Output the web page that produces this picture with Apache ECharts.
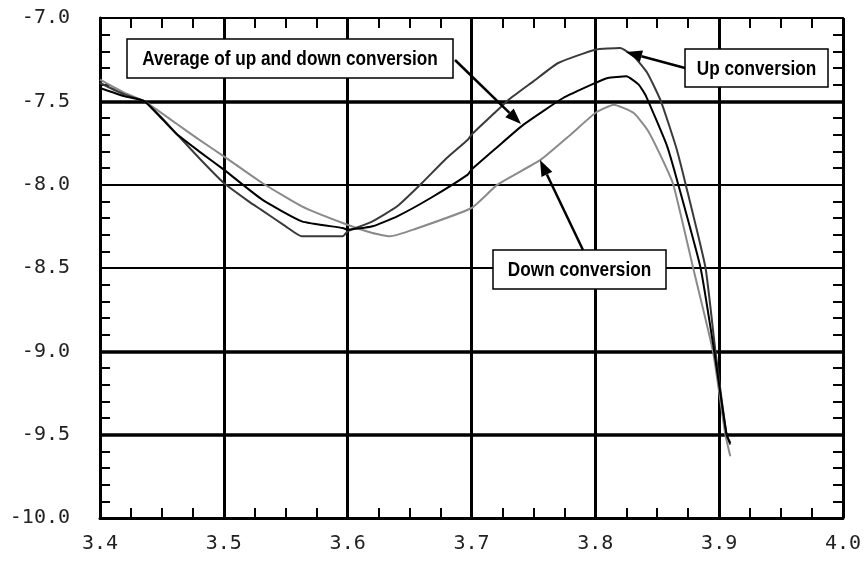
<!DOCTYPE html>
<html><head><meta charset="utf-8">
<script src="https://cdn.jsdelivr.net/npm/echarts@6/dist/echarts.min.js"></script>
<style>html,body{margin:0;padding:0;background:#fff}#c{width:868px;height:561px}</style>
</head><body><div id="c"></div>
<script>
// Frequency (x) vs. level (y)
const upConversion = [
  [3.400,-7.39],[3.420,-7.46],[3.436,-7.50],[3.450,-7.60],[3.460,-7.68],[3.480,-7.84],
  [3.500,-7.99],[3.520,-8.10],[3.530,-8.15],[3.550,-8.25],[3.563,-8.31],[3.596,-8.31],
  [3.600,-8.28],[3.620,-8.22],[3.640,-8.13],[3.660,-7.99],[3.680,-7.84],[3.697,-7.73],
  [3.700,-7.70],[3.720,-7.56],[3.730,-7.49],[3.750,-7.38],[3.770,-7.27],[3.800,-7.19],
  [3.820,-7.18],[3.831,-7.23],[3.842,-7.33],[3.853,-7.50],[3.865,-7.77],[3.873,-8.00],
  [3.889,-8.50],[3.897,-9.00],[3.906,-9.50],[3.909,-9.56]
];
const averageConversion = [
  [3.400,-7.42],[3.420,-7.47],[3.436,-7.50],[3.461,-7.69],[3.480,-7.80],[3.500,-7.91],
  [3.531,-8.09],[3.563,-8.22],[3.596,-8.26],[3.600,-8.27],[3.620,-8.25],[3.640,-8.19],
  [3.667,-8.08],[3.697,-7.94],[3.700,-7.91],[3.720,-7.78],[3.742,-7.64],[3.774,-7.48],
  [3.800,-7.39],[3.810,-7.36],[3.825,-7.35],[3.835,-7.40],[3.841,-7.47],[3.858,-7.77],
  [3.867,-8.00],[3.885,-8.50],[3.896,-9.00],[3.906,-9.50],[3.909,-9.55]
];
const downConversion = [
  [3.400,-7.37],[3.420,-7.45],[3.436,-7.50],[3.461,-7.63],[3.480,-7.73],[3.500,-7.83],
  [3.531,-7.99],[3.563,-8.13],[3.596,-8.23],[3.620,-8.29],[3.634,-8.31],[3.653,-8.27],
  [3.700,-8.14],[3.721,-8.00],[3.756,-7.85],[3.780,-7.70],[3.800,-7.57],[3.815,-7.52],
  [3.831,-7.57],[3.842,-7.67],[3.853,-7.83],[3.863,-8.00],[3.879,-8.50],[3.895,-9.00],
  [3.905,-9.50],[3.909,-9.63]
];
const thickLevels = [-7.5, -9.0, -9.5];
const labelAverage = 'Average of up and down conversion';
const labelUp = 'Up conversion';
const labelDown = 'Down conversion';

const chart = echarts.init(document.getElementById('c'), null, {renderer:'canvas'});
const tickFont = {fontFamily:'DejaVu Sans Mono', fontSize:20, color:'#222'};
function xAx(pos, main){
  return {type:'value', min:3.4, max:4.0, interval:0.1, position:pos,
    axisLine:{show:true, onZero:false, lineStyle:{color:'#000', width: main?3:2}},
    axisTick:{show:true, inside:true, length:10, lineStyle:{color:'#000', width:2}},
    minorTick:{show:true, splitNumber:4, length:10, lineStyle:{color:'#000', width:2}},
    splitLine:{show:main, lineStyle:{color:'#000', width:3}},
    axisLabel:Object.assign({show:main, margin:16, formatter:v=>v.toFixed(1)}, tickFont)};
}
function yAx(pos, main){
  return {type:'value', min:-10, max:-7, interval:0.5, position:pos,
    axisLine:{show:true, onZero:false, lineStyle:{color:'#000', width: main?3:2}},
    axisTick:{show:true, inside:true, length:10, lineStyle:{color:'#000', width:2}},
    minorTick:{show:true, splitNumber:5, length:10, lineStyle:{color:'#000', width:2}},
    splitLine:{show:main, lineStyle:{color:'#000', width:2}},
    axisLabel:Object.assign({show:main, margin:30, formatter:v=>v.toFixed(1)}, tickFont)};
}
function arrow(x1,y1,x2,y2){
  const a=Math.atan2(y2-y1,x2-x1), L=16, W=6;
  const bx=x2-L*Math.cos(a), by=y2-L*Math.sin(a);
  return [
    {type:'line', z:100, shape:{x1:x1,y1:y1,x2:bx,y2:by}, style:{stroke:'#000', lineWidth:2.5}},
    {type:'polygon', z:100, shape:{points:[[x2,y2],[bx+W*Math.sin(a),by-W*Math.cos(a)],[bx-W*Math.sin(a),by+W*Math.cos(a)]]}, style:{fill:'#000'}}
  ];
}
function box(x,y,w,h,text){
  return [
    {type:'rect', z:100, shape:{x:x,y:y,width:w,height:h}, style:{fill:'#fff', stroke:'#000', lineWidth:1.5}},
    {type:'text', z:101, x:x+w/2, y:y+h/2+1, scaleX:0.86, style:{text:text, fill:'#000', align:'center', verticalAlign:'middle',
      font:'bold 20px "Liberation Sans Narrow", "Arial Narrow", "Liberation Sans", sans-serif'}}
  ];
}
const lineSeries = (name, data, color, z) => ({
  name, type:'line', data, showSymbol:false, symbol:'none', z, smooth:0.15,
  lineStyle:{color, width:2}, itemStyle:{color}
});
const sDown = lineSeries('Down conversion', downConversion, '#8a8a8a', 3);
const sAvg = lineSeries('Average', averageConversion, '#000', 5);
const sUp = lineSeries('Up conversion', upConversion, '#3a3a3a', 4);
sAvg.markLine = {silent:true, symbol:'none', z:1, label:{show:false},
  lineStyle:{color:'#000', width:3.5, type:'solid'}, emphasis:{disabled:true},
  data: thickLevels.map(v=>({yAxis:v}))};

chart.setOption({
  animation:false,
  backgroundColor:'#fff',
  grid:{left:100, right:25, top:18, bottom:43},
  xAxis:[xAx('bottom', true), xAx('top', false)],
  yAxis:[yAx('left', true), yAx('right', false)],
  series:[sDown, sUp, sAvg],
  graphic:[].concat(
    box(127,39,326,39,labelAverage), arrow(455,60,521,124),
    box(685,49,143,38,labelUp), arrow(685,68,626,52),
    box(493,250,173,39,labelDown), arrow(583,250,540,160)
  )
});
</script></body></html>
